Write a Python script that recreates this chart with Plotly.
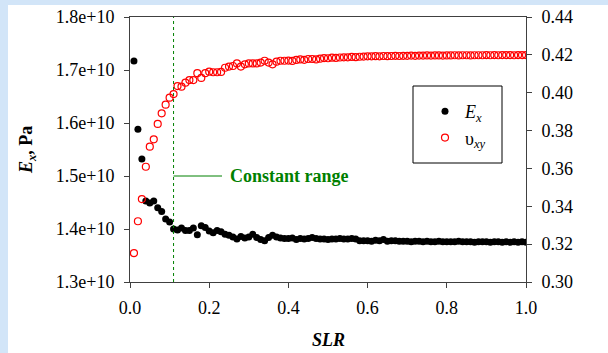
import plotly.graph_objects as go

slr = [round(0.01 * i, 2) for i in range(1, 101)]

ex = [1.717, 1.588, 1.532, 1.453, 1.449, 1.453, 1.440, 1.433, 1.419, 1.413,
      1.400, 1.398, 1.402, 1.397, 1.397, 1.402, 1.389, 1.406, 1.403, 1.396,
      1.393, 1.397, 1.395, 1.390, 1.388, 1.385, 1.381, 1.386, 1.383, 1.385,
      1.390, 1.384, 1.380, 1.378, 1.384, 1.388, 1.385, 1.383, 1.382, 1.382,
      1.383, 1.380, 1.382, 1.381, 1.382, 1.384, 1.382, 1.381, 1.381, 1.380,
      1.381, 1.381, 1.382, 1.381, 1.381, 1.382, 1.381, 1.378, 1.378, 1.378,
      1.377, 1.379, 1.378, 1.380, 1.377, 1.378, 1.378, 1.377, 1.377, 1.377,
      1.376, 1.377, 1.377, 1.376, 1.377, 1.376, 1.376, 1.377, 1.376, 1.376,
      1.376, 1.376, 1.377, 1.376, 1.376, 1.376, 1.375, 1.376, 1.376, 1.376,
      1.375, 1.376, 1.376, 1.375, 1.376, 1.375, 1.376, 1.375, 1.376, 1.375]
ex = [v * 1e10 for v in ex]

nu = [0.3153, 0.3321, 0.3438, 0.3609, 0.3715, 0.3754, 0.3835, 0.3891, 0.3937, 0.3974,
      0.3993, 0.4035, 0.4032, 0.4053, 0.4067, 0.4067, 0.4103, 0.4078, 0.4103, 0.4111,
      0.4108, 0.4108, 0.4110, 0.4132, 0.4138, 0.4141, 0.4155, 0.4138, 0.4150, 0.4155,
      0.4155, 0.4155, 0.4159, 0.4169, 0.4159, 0.4150, 0.4164, 0.4169, 0.4169, 0.4170,
      0.4168, 0.4173, 0.4176, 0.4174, 0.4178, 0.4178, 0.4176, 0.4180, 0.4183, 0.4182,
      0.4185, 0.4184, 0.4186, 0.4187, 0.4187, 0.4189, 0.4188, 0.4190, 0.4191, 0.4192,
      0.4192, 0.4193, 0.4192, 0.4194, 0.4193, 0.4194, 0.4195, 0.4194, 0.4195, 0.4195,
      0.4196, 0.4195, 0.4196, 0.4196, 0.4197, 0.4196, 0.4197, 0.4197, 0.4196, 0.4197,
      0.4197, 0.4198, 0.4197, 0.4198, 0.4198, 0.4197, 0.4198, 0.4198, 0.4198, 0.4199,
      0.4198, 0.4199, 0.4198, 0.4199, 0.4199, 0.4199, 0.4198, 0.4199, 0.4199, 0.4199]

ex_tick_vals = [1.3e10, 1.4e10, 1.5e10, 1.6e10, 1.7e10, 1.8e10]
ex_tick_text = ["1.3e+10", "1.4e+10", "1.5e+10", "1.6e+10", "1.7e+10", "1.8e+10"]

const_x = 0.11
const_y = 1.5e10

W, H = 608, 353
L, R, T, B = 130, 82, 17, 71
PW, PH = W - L - R, H - T - B


def px(xp):
    return (xp - L) / PW


def py(yp):
    return (H - B - yp) / PH


FONT = "Liberation Serif, Times New Roman, serif"
AX = "#404040"
GREEN = "#008000"
TF = dict(family=FONT, size=18, color="black")

fig = go.Figure()
fig.add_trace(go.Scatter(
    x=slr, y=ex, mode="markers", name="<i>E<sub>x</sub></i>",
    marker=dict(symbol="circle", size=7, color="black", line=dict(width=0)),
    yaxis="y"))
fig.add_trace(go.Scatter(
    x=slr, y=nu, mode="markers", name="υ<sub><i>xy</i></sub>",
    marker=dict(symbol="circle-open", size=7, color="red", line=dict(width=1.2, color="red")),
    yaxis="y2"))

shapes = [
    dict(type="rect", xref="paper", yref="paper", x0=px(8), x1=px(W + 5), y0=py(H + 5), y1=py(5),
         fillcolor="white", line=dict(width=0), layer="below"),
    dict(type="line", xref="x", yref="y", x0=const_x, x1=const_x, y0=1.3e10, y1=1.8e10,
         line=dict(color=GREEN, width=1, dash="dot")),
    dict(type="line", xref="x", yref="y", x0=const_x, x1=px(222), y0=const_y, y1=const_y,
         line=dict(color=GREEN, width=1)),
    dict(type="rect", xref="paper", yref="paper", x0=px(413), x1=px(502), y0=py(163), y1=py(86),
         line=dict(color="black", width=1), fillcolor="rgba(0,0,0,0)"),
]

annotations = [
    dict(text="<b>Constant range</b>", xref="paper", yref="y", x=px(228), y=const_y,
         xanchor="left", yanchor="middle", showarrow=False,
         font=dict(family=FONT, size=18, color=GREEN)),
    dict(text="<b><i>E<sub>x</sub></i>, Pa</b>", xref="paper", yref="paper", x=px(27), y=py(150),
         textangle=-90, showarrow=False, xanchor="center", yanchor="middle",
         font=dict(family=FONT, size=18, color="black")),
    dict(text="<b><i>SLR</i></b>", xref="paper", yref="paper", x=px(328), y=py(340),
         showarrow=False, xanchor="center", yanchor="middle",
         font=dict(family=FONT, size=18, color="black")),
]

fig.update_layout(
    width=W, height=H,
    margin=dict(l=L, r=R, t=T, b=B, autoexpand=False),
    paper_bgcolor="#d2e5f8", plot_bgcolor="white",
    font=dict(family=FONT, size=18, color="black"),
    showlegend=True,
    legend=dict(x=px(425), y=py(93), xanchor="left", yanchor="top",
                bgcolor="rgba(0,0,0,0)", borderwidth=0,
                font=dict(family=FONT, size=18, color="black"),
                tracegroupgap=0),
    xaxis=dict(range=[0, 1], dtick=0.2, tick0=0, tickformat=".1f", tickfont=TF,
               showline=True, linecolor=AX, linewidth=1, mirror=True,
               ticks="outside", ticklen=5, tickcolor=AX, showgrid=False, zeroline=False,
               ticklabelstandoff=4),
    yaxis=dict(range=[1.3e10, 1.8e10], tickmode="array", tickvals=ex_tick_vals,
               ticktext=ex_tick_text, tickfont=TF,
               showline=True, linecolor=AX, linewidth=1,
               ticks="outside", ticklen=5, tickcolor=AX, showgrid=False, zeroline=False,
               ticklabelstandoff=6),
    yaxis2=dict(range=[0.30, 0.44], dtick=0.02, tick0=0.30, tickformat=".2f", tickfont=TF,
                overlaying="y", side="right",
                showline=True, linecolor=AX, linewidth=1,
                ticks="outside", ticklen=5, tickcolor=AX, showgrid=False, zeroline=False,
                ticklabelstandoff=6),
    shapes=shapes,
    annotations=annotations,
)

fig.write_html("out.html")
